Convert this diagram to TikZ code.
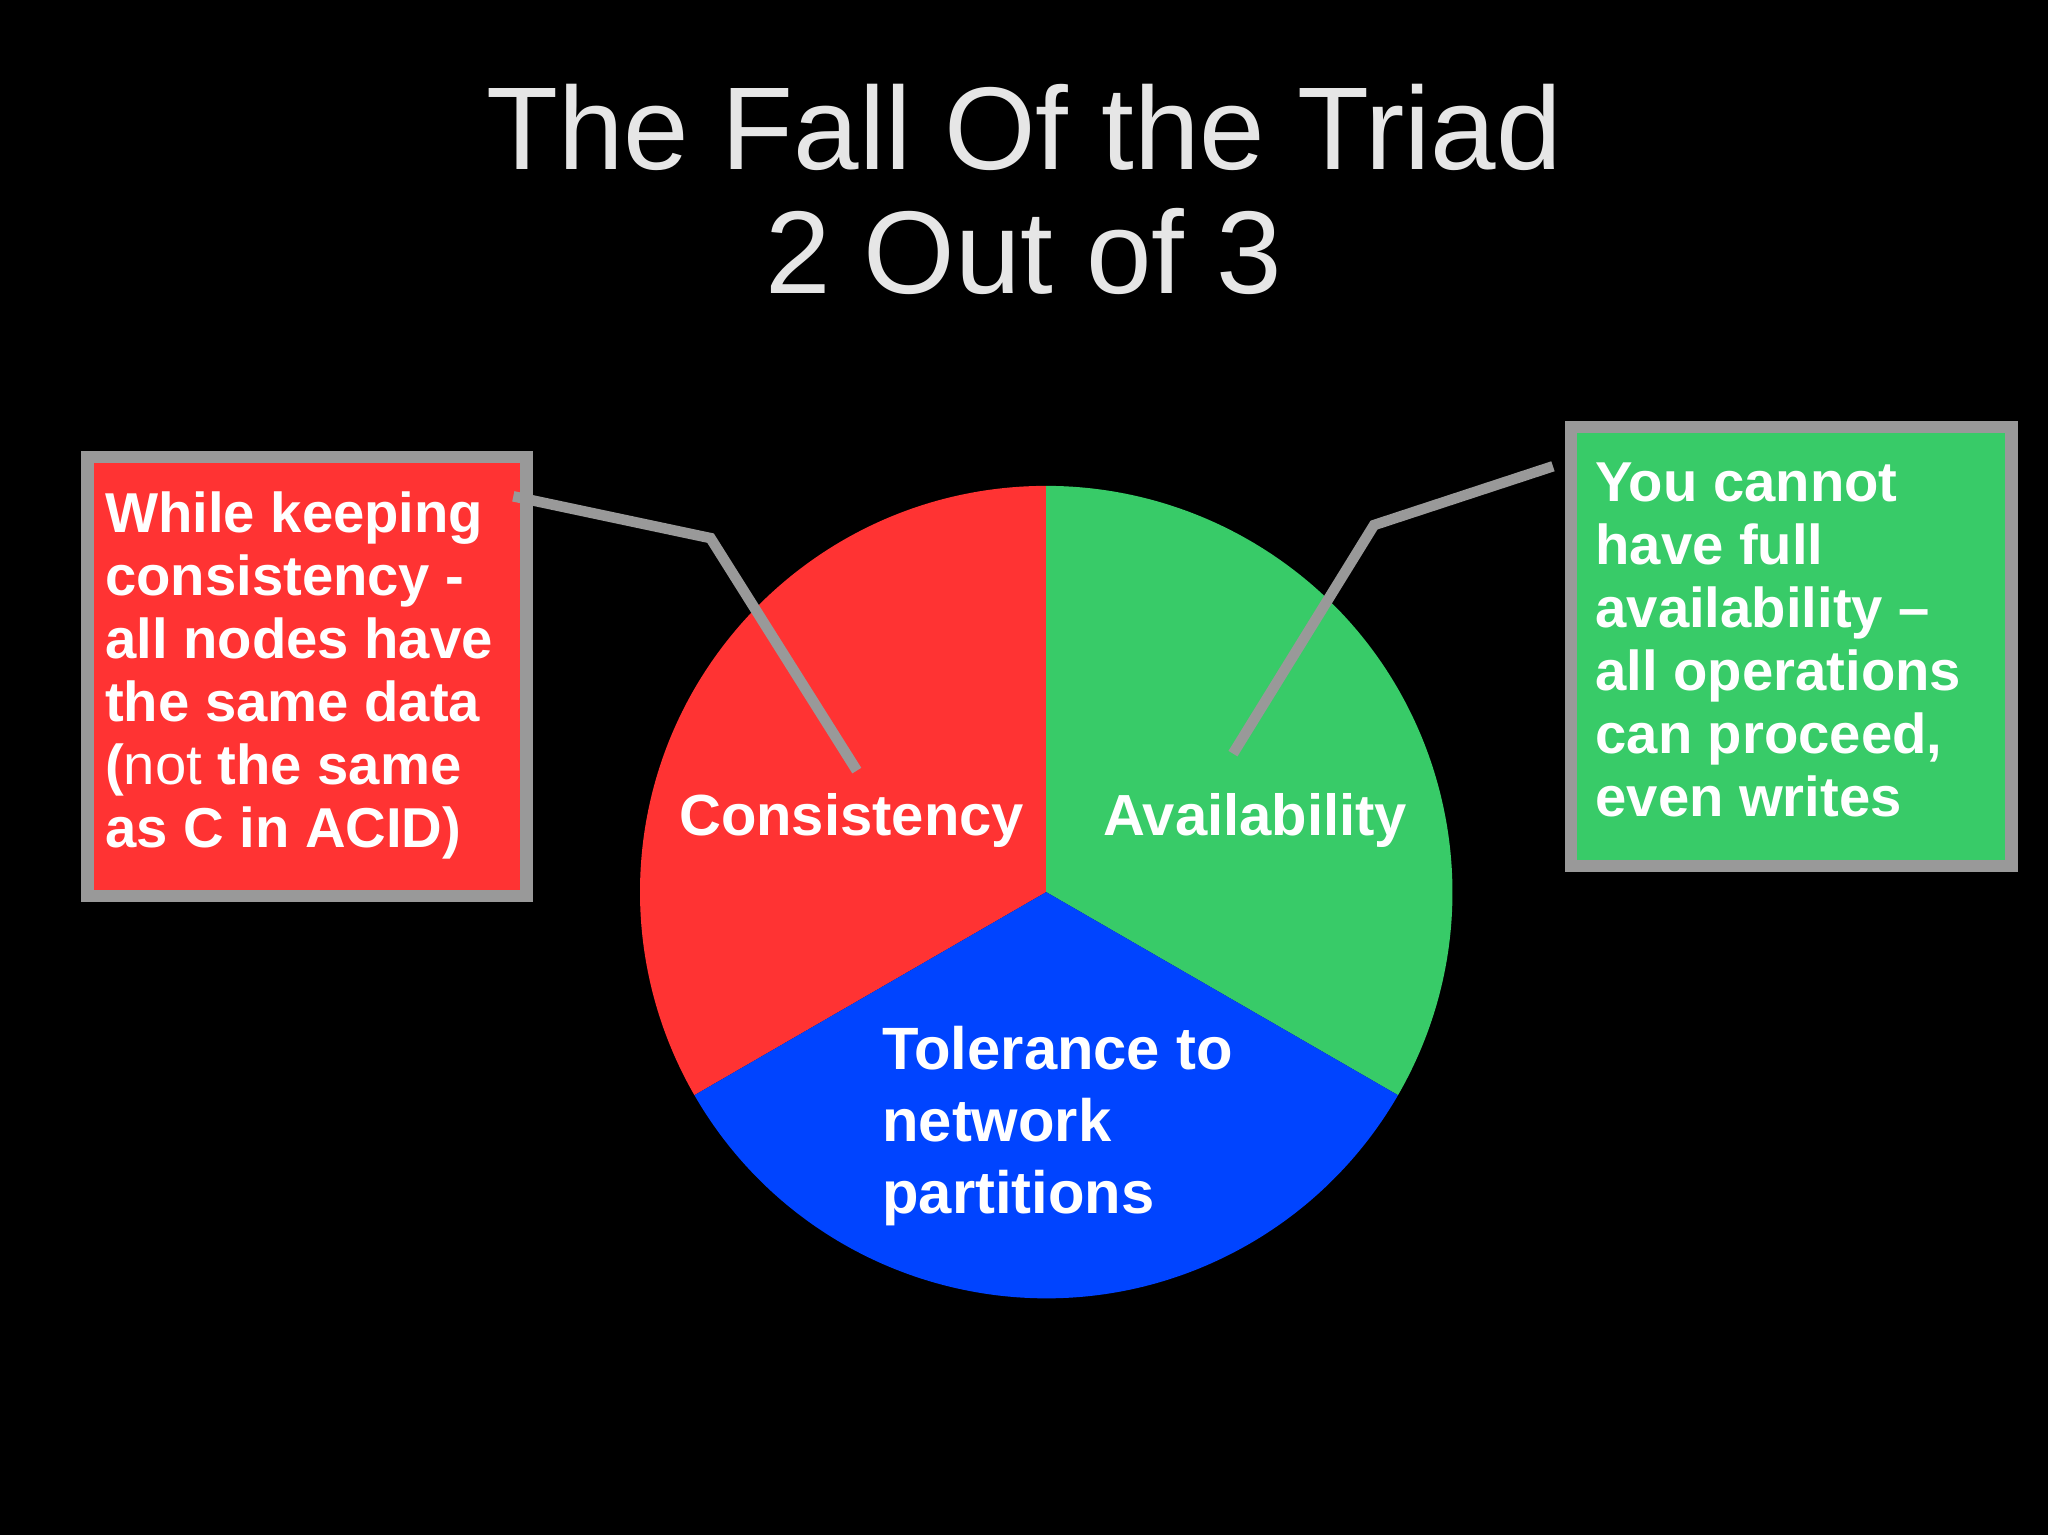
\documentclass[tikz,border=0pt]{standalone}
\usepackage{fontspec}
\setmainfont{Liberation Sans}
\begin{document}
\begin{tikzpicture}[x=0.013061cm,y=-0.013061cm]
\definecolor{cred}{HTML}{FF3333}
\definecolor{cgreen}{HTML}{38CB68}
\definecolor{cblue}{HTML}{0044FF}
\definecolor{cgray}{HTML}{999999}
\definecolor{ctitle}{HTML}{E6E6E6}
\tikzset{
 boxtxt/.style={text=white,font=\fontsize{16}{17.9}\selectfont\bfseries,align=left,inner sep=0pt,anchor=north west},
 lbl/.style={text=white,font=\fontsize{16.5}{19}\selectfont\bfseries,inner sep=0pt},
 callout/.style={draw=cgray,line width=3pt},
 cbox/.style={draw=cgray,line width=3.5pt}
}
\fill[black] (0,0) rectangle (1568,1175);
\useasboundingbox (0,0) rectangle (1568,1175);
\node[text=ctitle,font=\fontsize{33.5}{35.5}\selectfont,align=center,inner sep=0pt] (title) at (784,145) {The Fall Of the Triad\\2 Out of 3};
\begin{scope}[y=0.013061cm]
\coordinate (cc) at (801,-683);
\fill[cred] (cc) -- +(90:311) arc[start angle=90,end angle=210,radius=311] -- cycle;
\fill[cgreen] (cc) -- +(-30:311) arc[start angle=-30,end angle=90,radius=311] -- cycle;
\fill[cblue] (cc) -- +(210:311) arc[start angle=210,end angle=330,radius=311] -- cycle;
\end{scope}
\node[lbl] (cons) at (652,628) {Consistency};
\node[lbl] (avail) at (961,628) {Availability};
\node[boxtxt,font=\fontsize{17}{20.5}\selectfont\bfseries] (tol) at (675,785) {Tolerance to\\network\\partitions};
% boxes
\draw[cbox,fill=cred] (67,350) rectangle (403,686);
\draw[cbox,fill=cgreen] (1203,327) rectangle (1540,663);
\node[boxtxt] (ltxt) at (80,376) {While keeping\\consistency -\\all nodes have\\the same data\\(\textmd{not} the same\\as C in ACID)};
\node[boxtxt] (rtxt) at (1221,354) {You cannot\\have full\\availability –\\all operations\\can proceed,\\even writes};
% callouts
\coordinate (l1) at (393,380);
\coordinate (l2) at (544,412);
\coordinate (l3) at (656,590);
\coordinate (r1) at (1189,357);
\coordinate (r2) at (1052,402);
\coordinate (r3) at (944,577);
\draw[callout] (l1) -- (l2) -- (l3);
\draw[callout] (r1) -- (r2) -- (r3);
\end{tikzpicture}
\end{document}
